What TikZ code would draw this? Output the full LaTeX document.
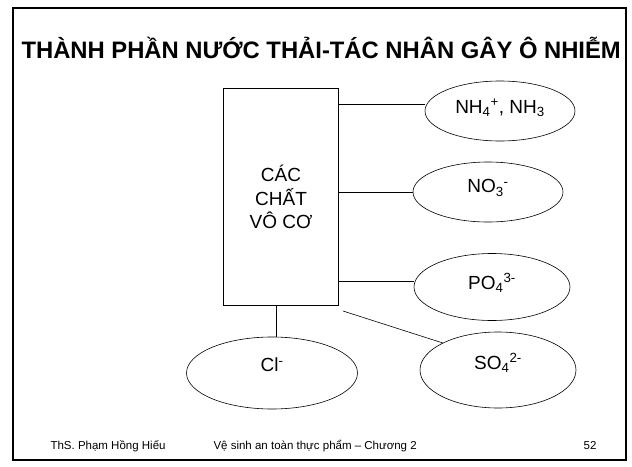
\documentclass[tikz,border=0pt]{standalone}
\usepackage{fontspec}
\setmainfont{Liberation Sans}
\usetikzlibrary{shapes.geometric}
\begin{document}
\begin{tikzpicture}[x=1pt,y=-1pt,
  oval/.style={draw,ellipse,line width=0.6pt,inner sep=0pt,minimum width=#1},
  lbl/.style={font=\fontsize{19}{23.5}\selectfont},
  foot/.style={font=\fontsize{11.5}{13}\selectfont},
  link/.style={line width=0.6pt}]
\useasboundingbox (0,0) rectangle (632,466);
\draw[line width=1.8pt] (13,8) rectangle (626,460);
\node[font=\bfseries\fontsize{23.8}{28}\selectfont,anchor=west] (title) at (18,48) {THÀNH PHẦN NƯỚC THẢI-TÁC NHÂN GÂY Ô NHIỄM};
\node[draw,line width=0.6pt,minimum width=115pt,minimum height=217pt,inner sep=0pt] (box) at (281,197) {};
\node[lbl,align=center] (boxtxt) at (281,197) {CÁC\\CHẤT\\VÔ CƠ};
\node[oval=150pt,minimum height=60pt] (e1) at (500,111) {};
\node[lbl] at (500,108) {NH\textsubscript{4}\textsuperscript{+}, NH\textsubscript{3}};
\node[oval=150pt,minimum height=60pt] (e2) at (488,192) {};
\node[lbl] at (488,188) {NO\textsubscript{3}\textsuperscript{-}};
\node[oval=156pt,minimum height=67pt] (e3) at (492,287) {};
\node[lbl] at (492,283) {PO\textsubscript{4}\textsuperscript{3-}};
\node[oval=156pt,minimum height=76pt] (e4) at (498,370) {};
\node[lbl] at (498,363) {SO\textsubscript{4}\textsuperscript{2-}};
\node[oval=171pt,minimum height=72pt] (e5) at (272,373) {};
\node[lbl] at (272,365) {Cl\textsuperscript{-}};
\draw[link] (box.east |- 0,104) -- (e1.west |- 0,104);
\draw[link] (box.east |- 0,192) -- (e2.west);
\draw[link] (box.east |- 0,281) -- (e3.west |- 0,281);
\coordinate (s1) at (343,311);
\draw[link] (s1) -- (e4.north west);
\draw[link] (box.south -| 276,0) -- (e5.north -| 276,0);
\node[foot,anchor=west] (f1) at (47,446) {ThS. Phạm Hồng Hiếu};
\node[foot,anchor=west] (f2) at (210,446) {Vệ sinh an toàn thực phẩm – Chương 2};
\node[foot,anchor=east] (f3) at (600,446) {52};
\end{tikzpicture}
\end{document}
